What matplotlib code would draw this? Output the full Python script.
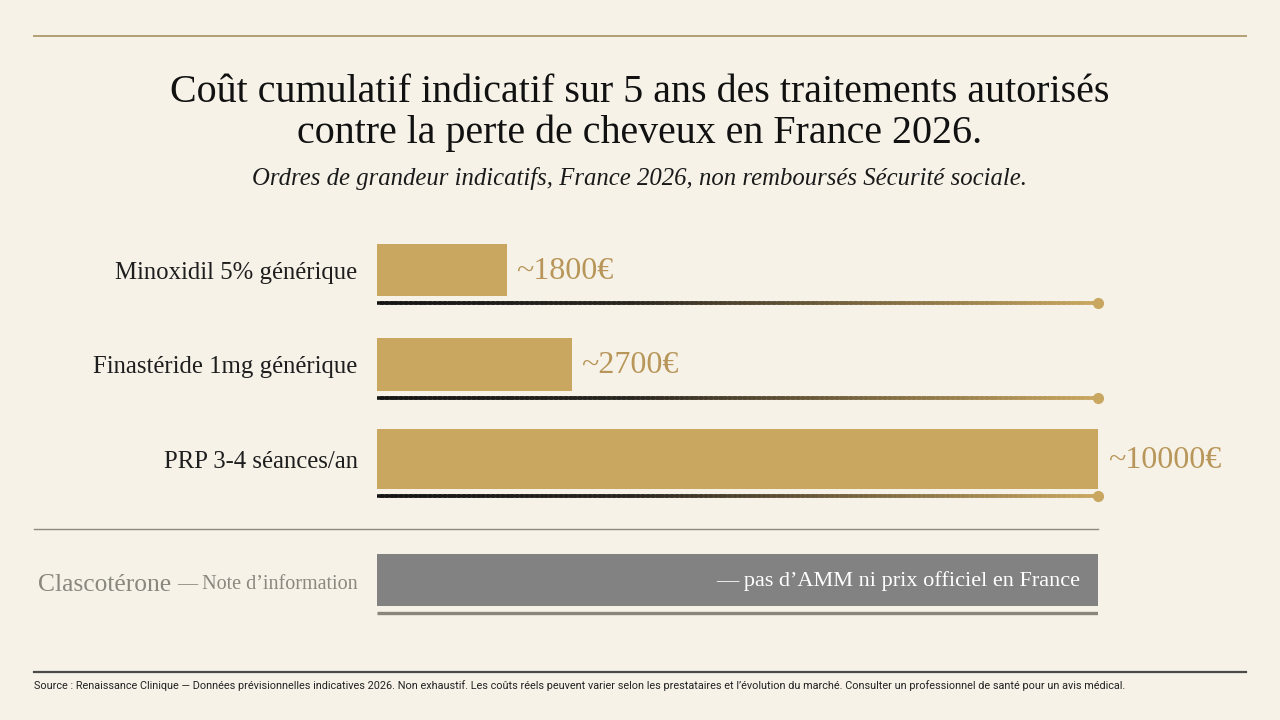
import matplotlib.pyplot as plt
import numpy as np
from matplotlib.collections import LineCollection
from matplotlib.colors import LinearSegmentedColormap

# Data
treatments = ['Minoxidil 5% générique', 'Finastéride 1mg générique', 'PRP 3-4 séances/an']
costs = [1800, 2700, 10000]
note_name = 'Clascotérone'
note_suffix = '— Note d’information'
note_text = '— pas d’AMM ni prix officiel en France'

title = ('Coût cumulatif indicatif sur 5 ans des traitements autorisés\n'
         'contre la perte de cheveux en France 2026.')
subtitle = 'Ordres de grandeur indicatifs, France 2026, non remboursés Sécurité sociale.'
source = ('Source : Renaissance Clinique — Données prévisionnelles indicatives 2026. Non exhaustif. '
          'Les coûts réels peuvent varier selon les prestataires et l’évolution du marché. '
          'Consulter un professionnel de santé pour un avis médical.')

BG = '#F6F2E8'
GOLD = '#C9A760'
GOLD_TXT = '#B8965A'
DARK = '#1E1E1E'
GREY_BAR = '#828282'
GREY_TXT = '#8A877F'
SERIF = ['Liberation Serif', 'DejaVu Serif']

W, H = 1280, 720
fig = plt.figure(figsize=(W / 100, H / 100), dpi=100, facecolor=BG)


def fx(px):
    return px / W


def fy(py):
    return 1 - py / H


# decorative rules top and bottom
fig.add_artist(plt.Line2D([fx(34), fx(1246)], [fy(36), fy(36)], color='#B3A074', lw=1.4))
fig.add_artist(plt.Line2D([fx(34), fx(1246)], [fy(672), fy(672)], color='#4A4A4A', lw=1.6))

fig.text(0.5, fy(113), title, ha='center', va='center', fontsize=28.8,
         family=SERIF, color='#111111', linespacing=1.13)
fig.text(0.5, fy(179), subtitle, ha='center', va='center', fontsize=17.8,
         family=SERIF, style='italic', color='#1A1A1A')
fig.text(fx(34), fy(686), source, ha='left', va='center', fontsize=7.8,
         family=['Roboto', 'DejaVu Sans'], color='#222222')

# bar axes: x from 377 to 1098 px, unit row spacing ~94.5 px, row 0 centred at 270 px
unit = 94.5
top_px, bot_px = 220, 630
ax = fig.add_axes([fx(377), fy(bot_px), fx(1098) - fx(377), (bot_px - top_px) / H])
ax.set_facecolor('none')
ax.set_xlim(0, max(costs))
ax.set_ylim((bot_px - 270) / unit, (top_px - 270) / unit)
ax.axis('off')

ypos = np.arange(len(treatments))
heights = [0.56, 0.57, 0.64]
ax.barh(ypos, costs, height=heights, color=GOLD, edgecolor='none')

cmap = LinearSegmentedColormap.from_list('rule', [(0, '#151515'), (0.35, '#2A2620'), (1, GOLD)])
xs = np.linspace(0, max(costs), 150)
for y, h, name, c in zip(ypos, heights, treatments, costs):
    ly = y + h / 2 + 0.07
    segs = [[(xs[i], ly), (xs[i + 1], ly)] for i in range(len(xs) - 1)]
    lc = LineCollection(segs, colors=cmap(np.linspace(0, 1, len(segs))), linewidths=2.6,
                        capstyle='projecting')
    ax.add_collection(lc)
    ax.plot([max(costs)], [ly], 'o', color=GOLD, ms=7, clip_on=False)
    ax.annotate(f'~{c}€', xy=(c, y), xytext=(7, -1), textcoords='offset points',
                ha='left', va='center', fontsize=23, family=SERIF, color=GOLD_TXT)
    ax.annotate(name, xy=(0, y), xytext=(-14, -2), textcoords='offset points',
                ha='right', va='center', fontsize=17.8, family=SERIF, color=DARK,
                annotation_clip=False)

# separator
sep_y = (529 - 270) / unit
ax.plot([-(377 - 34) / 721 * max(costs), max(costs)], [sep_y, sep_y], color='#8E897C',
        lw=1.0, clip_on=False)

# note row
note_y = (580 - 270) / unit
ax.barh([note_y], [max(costs)], height=0.55, color=GREY_BAR, edgecolor='none')
ax.plot([0, max(costs)], [note_y + 0.35, note_y + 0.35], color='#8A867C', lw=2.4,
        solid_capstyle='butt')
ax.annotate(note_text, xy=(max(costs), note_y), xytext=(-13, -1), textcoords='offset points',
            ha='right', va='center', fontsize=16, family=SERIF, color='white')
t2 = ax.annotate(note_suffix, xy=(0, note_y), xytext=(-14, -3), textcoords='offset points',
                 ha='right', va='center', fontsize=14.5, family=SERIF, color=GREY_TXT,
                 annotation_clip=False)
ax.annotate(note_name, xy=(0, 0), xytext=(-4, -1.5), textcoords='offset points',
            xycoords=t2, ha='right', va='bottom',
            fontsize=18.4, family=SERIF, color=GREY_TXT, annotation_clip=False)

fig.savefig('out.png', dpi=100, facecolor=BG)
